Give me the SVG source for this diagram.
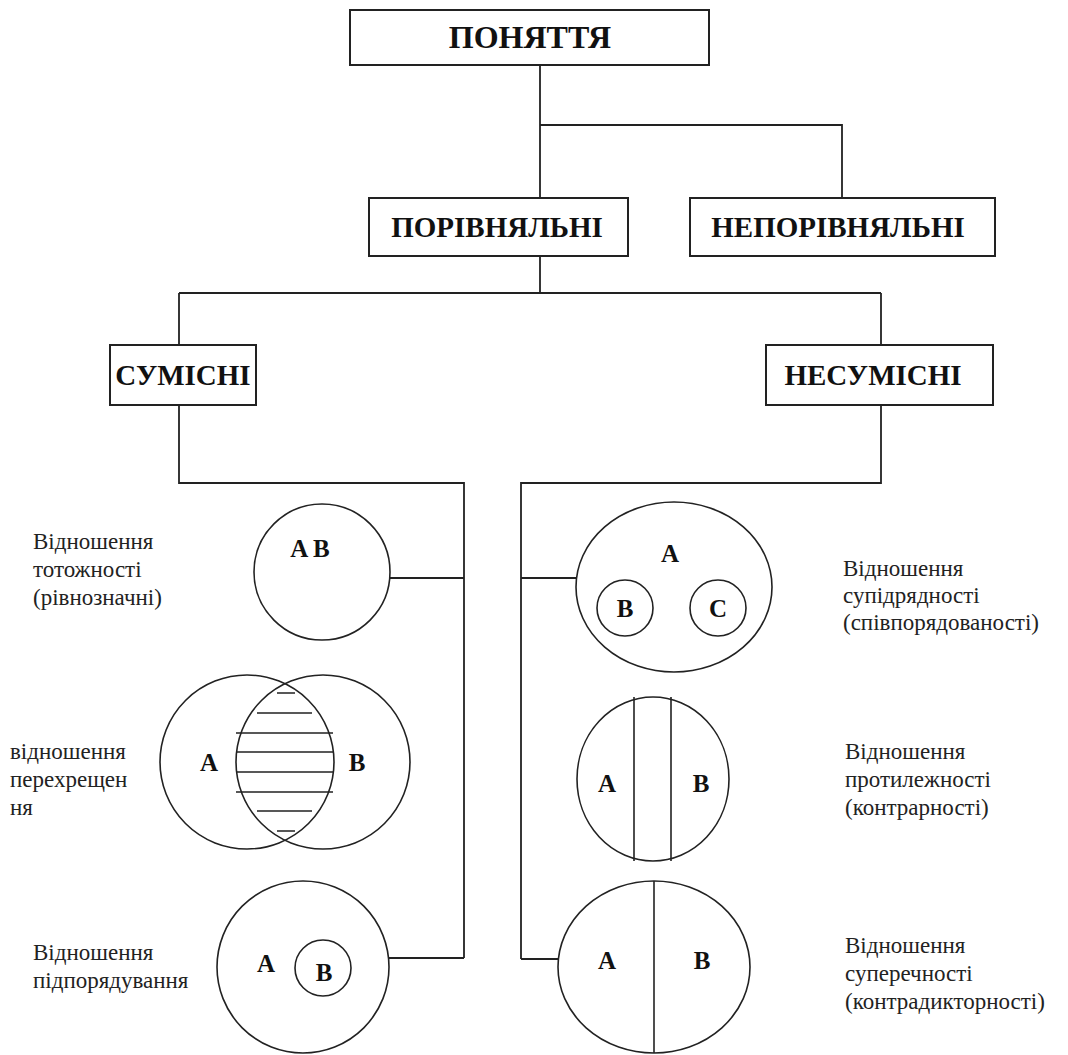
<svg xmlns="http://www.w3.org/2000/svg" width="1068" height="1055" viewBox="0 0 1068 1055">
<rect width="1068" height="1055" fill="#fff"/>
<g id="connectors" fill="none" stroke="#222" stroke-width="1.8">
<path d="M540 65V198M540 125H842V198"/>
<path d="M540 256V293M179 293H881M179 293V345M881 293V345"/>
<path d="M179 405V483H464V958M390 578H464M389 958H464"/>
<path d="M881 405V483H521V959M521 578H576M521 959H558"/>
</g>
<g font-family="Liberation Serif" font-weight="bold" font-size="29" text-anchor="middle" fill="#111">
<g id="ponyattya"><rect fill="#fff" stroke="#222" stroke-width="2" x="350" y="10" width="359" height="55"/><text x="530" y="48" font-size="32">ПОНЯТТЯ</text></g>
<g id="porivnyalni"><rect fill="#fff" stroke="#222" stroke-width="2" x="369" y="198" width="259" height="58"/><text x="497" y="237">ПОРІВНЯЛЬНІ</text></g>
<g id="neporivnyalni"><rect fill="#fff" stroke="#222" stroke-width="2" x="690" y="198" width="305" height="58"/><text x="838" y="237">НЕПОРІВНЯЛЬНІ</text></g>
<g id="sumisni"><rect fill="#fff" stroke="#222" stroke-width="2" x="110" y="345" width="146" height="60"/><text x="183" y="385">СУМІСНІ</text></g>
<g id="nesumisni"><rect fill="#fff" stroke="#222" stroke-width="2" x="766" y="345" width="227" height="60"/><text x="873" y="385">НЕСУМІСНІ</text></g>
</g>
<g font-family="Liberation Serif" font-size="25" fill="#111">
<g id="totozhnist">
<circle fill="none" stroke="#222" stroke-width="1.6" cx="322" cy="572" r="68"/>
<text font-weight="bold" text-anchor="middle" x="310" y="557">A B</text>
<g font-size="23" fill="#222"><text x="33" y="549">Відношення</text><text x="33" y="577">тотожності</text><text x="33" y="605">(рівнозначні)</text></g>
</g>
<g id="perekhreshchennya">
<g fill="none" stroke="#222" stroke-width="1.6">
<circle cx="247" cy="762" r="87"/>
<circle cx="323" cy="762" r="87"/>
<path d="M277 693H295M257 713H312M236 733H333M236 752H333M236 772H333M236 792H333M257 811H312M277 831H295"/>
</g>
<text font-weight="bold" text-anchor="middle" x="209" y="771">A</text>
<text font-weight="bold" text-anchor="middle" x="357" y="771">B</text>
<g font-size="23" fill="#222"><text x="10" y="759">відношення</text><text x="10" y="787">перехрещен</text><text x="10" y="815">ня</text></g>
</g>
<g id="pidporyaduvannya">
<g fill="none" stroke="#222" stroke-width="1.6"><circle cx="303" cy="967" r="86"/><circle cx="323" cy="968" r="28"/></g>
<text font-weight="bold" text-anchor="middle" x="266" y="972">A</text>
<text font-weight="bold" text-anchor="middle" x="324" y="981">B</text>
<g font-size="23" fill="#222"><text x="33" y="960">Відношення</text><text x="33" y="988">підпорядування</text></g>
</g>
<g id="supidryadnist">
<g fill="none" stroke="#222" stroke-width="1.6"><ellipse cx="674" cy="587" rx="98" ry="85"/><circle cx="625" cy="608" r="28"/><circle cx="718" cy="608" r="28"/></g>
<text font-weight="bold" text-anchor="middle" x="670" y="562">A</text>
<text font-weight="bold" text-anchor="middle" x="625" y="617">B</text>
<text font-weight="bold" text-anchor="middle" x="718" y="617">C</text>
<g font-size="23" fill="#222"><text x="843" y="576">Відношення</text><text x="843" y="603">супідрядності</text><text x="843" y="630">(співпорядованості)</text></g>
</g>
<g id="protylezhnist">
<g fill="none" stroke="#222" stroke-width="1.6"><ellipse cx="653" cy="779" rx="76" ry="82"/><path d="M634 697V861M671 697V861"/></g>
<text font-weight="bold" text-anchor="middle" x="607" y="792">A</text>
<text font-weight="bold" text-anchor="middle" x="701" y="792">B</text>
<g font-size="23" fill="#222"><text x="845" y="759">Відношення</text><text x="845" y="787">протилежності</text><text x="845" y="815">(контрарності)</text></g>
</g>
<g id="superechnist">
<g fill="none" stroke="#222" stroke-width="1.6"><ellipse cx="654" cy="967" rx="96" ry="86"/><path d="M654 881V1053"/></g>
<text font-weight="bold" text-anchor="middle" x="607" y="969">A</text>
<text font-weight="bold" text-anchor="middle" x="702" y="969">B</text>
<g font-size="23" fill="#222"><text x="845" y="953">Відношення</text><text x="845" y="981">суперечності</text><text x="845" y="1009">(контрадикторності)</text></g>
</g>
</g>
</svg>
